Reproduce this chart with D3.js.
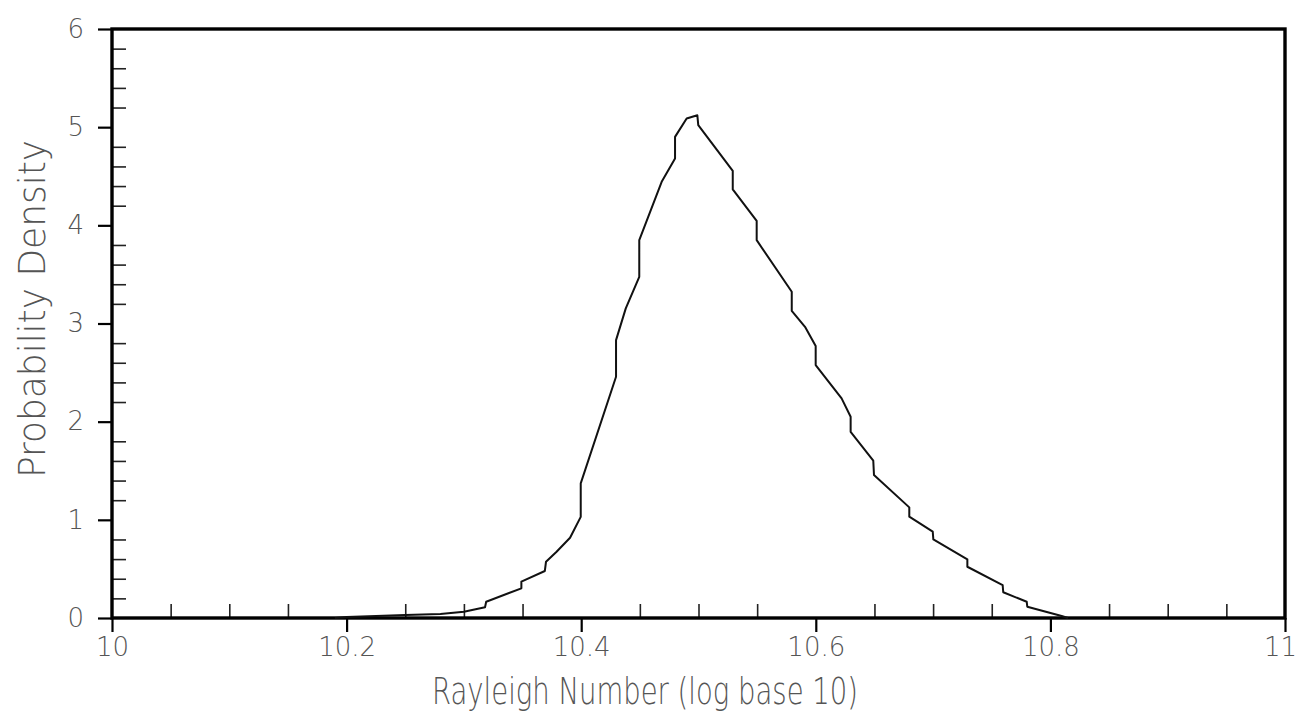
<!DOCTYPE html>
<html>
<head>
<meta charset="utf-8">
<script src="https://cdn.jsdelivr.net/npm/d3@7"></script>
<style>
  html, body { margin: 0; padding: 0; background: #fff; }
  svg { display: block; }
  text { font-family: "DejaVu Sans", sans-serif; font-stretch: condensed; font-weight: 200; fill: #555; }
</style>
</head>
<body>
<svg id="chart" width="1298" height="720"></svg>
<script>
// ---- data ----
const rayleighLog = [10.19, 10.20, 10.25, 10.28, 10.30, 10.318, 10.319, 10.349, 10.349, 10.369, 10.370, 10.379, 10.3905, 10.3996, 10.3996, 10.4297, 10.4297, 10.438, 10.4495, 10.4495, 10.4686, 10.480, 10.480, 10.4899, 10.499, 10.4998, 10.5292, 10.5292, 10.5496, 10.5496, 10.5795, 10.5795, 10.5908, 10.5999, 10.5999, 10.622, 10.6297, 10.6297, 10.649, 10.6496, 10.6797, 10.6797, 10.6997, 10.7002, 10.7292, 10.7292, 10.7593, 10.7598, 10.7798, 10.7803, 10.8096, 10.815];
const density     = [0.0,   0.01,  0.03,  0.04,  0.064, 0.109,  0.166,  0.302,  0.37,   0.479,  0.573,  0.675,  0.818,   1.03,    1.372,   2.457,   2.831,   3.154, 3.476,   3.849,   4.443,   4.681, 4.901, 5.089,   5.122,  5.02,    4.555,   4.366,   4.046,   3.849,   3.323,   3.129,   2.966,   2.770,   2.576,   2.237, 2.050,   1.897,   1.602, 1.456,   1.127,   1.032,   0.879,   0.801,   0.598,   0.522,   0.336,   0.262,   0.166,   0.115,   0.02,    0.0];

const xMajorTicks = [10, 10.2, 10.4, 10.6, 10.8, 11];
const xMajorLabels = ["10", "10.2", "10.4", "10.6", "10.8", "11"];
const yMajorTicks = [0, 1, 2, 3, 4, 5, 6];
const yMajorLabels = ["0", "1", "2", "3", "4", "5", "6"];
const xTitle = "Rayleigh Number (log base 10)";
const yTitle = "Probability Density";

// ---- layout ----
const plotL = 112, plotR = 1285, plotT = 29, plotB = 618;
const svg = d3.select("#chart");

const x = d3.scaleLinear().domain([10, 11]).range([plotL, plotR]);
const y = d3.scaleLinear().domain([0, 6]).range([plotB, plotT]);

// minor ticks
const xMinor = d3.range(0, 21).map(i => 10 + i * 0.05).filter(v => Math.abs((v - 10) / 0.2 - Math.round((v - 10) / 0.2)) > 1e-6);
const yMinor = d3.range(0, 31).map(i => i * 0.2).filter(v => Math.abs(v - Math.round(v)) > 1e-6);

// X axis (bottom): major ticks outward, labels
const xAxis = d3.axisBottom(x).tickValues(xMajorTicks)
  .tickFormat((d, i) => xMajorLabels[i]).tickSize(14).tickPadding(6);
const gx = svg.append("g").attr("transform", `translate(0,${plotB})`).call(xAxis);
gx.select(".domain").remove();
gx.selectAll(".tick line").attr("stroke", "#000").attr("stroke-width", 2.2);
gx.selectAll(".tick text")
  .style("font-size", "26px").attr("fill", "#555")
  .attr("dx", (d, i) => i === xMajorLabels.length - 1 ? -5 : 0);

// X minor ticks inward
const gxm = svg.append("g").attr("transform", `translate(0,${plotB})`)
  .call(d3.axisTop(x).tickValues(xMinor).tickSize(14).tickFormat(""));
gxm.select(".domain").remove();
gxm.selectAll(".tick line").attr("stroke", "#222").attr("stroke-width", 1.6);

// Y axis (left): major ticks outward, labels
const yAxis = d3.axisLeft(y).tickValues(yMajorTicks)
  .tickFormat((d, i) => yMajorLabels[i]).tickSize(14).tickPadding(14);
const gy = svg.append("g").attr("transform", `translate(${plotL},0)`).call(yAxis);
gy.select(".domain").remove();
gy.selectAll(".tick line").attr("stroke", "#000").attr("stroke-width", 2.2);
gy.selectAll(".tick text").style("font-size", "26px").attr("fill", "#555");

// Y minor ticks inward
const gym = svg.append("g").attr("transform", `translate(${plotL},0)`)
  .call(d3.axisRight(y).tickValues(yMinor).tickSize(14).tickFormat(""));
gym.select(".domain").remove();
gym.selectAll(".tick line").attr("stroke", "#222").attr("stroke-width", 1.6);

// frame
svg.append("rect")
  .attr("x", plotL).attr("y", plotT)
  .attr("width", plotR - plotL).attr("height", plotB - plotT)
  .attr("fill", "none").attr("stroke", "#000").attr("stroke-width", 3.4);

// curve
const pts = rayleighLog.map((v, i) => [v, density[i]]);
svg.append("path")
  .datum(pts)
  .attr("fill", "none")
  .attr("stroke", "#111")
  .attr("stroke-width", 2)
  .attr("stroke-linejoin", "round")
  .attr("d", d3.line().x(d => x(d[0])).y(d => y(d[1])));

// titles
svg.append("text")
  .attr("x", 645).attr("y", 704)
  .attr("text-anchor", "middle")
  .attr("textLength", 426).attr("lengthAdjust", "spacingAndGlyphs")
  .style("font-size", "38px")
  .text(xTitle);

svg.append("text")
  .attr("transform", `translate(45,309) rotate(-90)`)
  .attr("text-anchor", "middle")
  .attr("textLength", 338).attr("lengthAdjust", "spacingAndGlyphs")
  .style("font-size", "38px")
  .text(yTitle);
</script>
</body>
</html>
